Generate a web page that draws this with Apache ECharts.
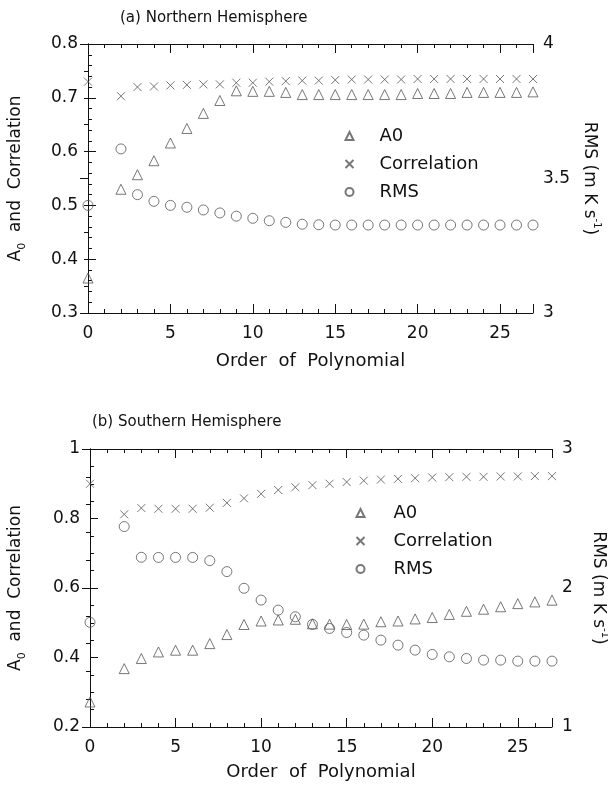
<!DOCTYPE html>
<html>
<head>
<meta charset="utf-8">
<script src="https://cdn.jsdelivr.net/npm/echarts@6/dist/echarts.min.js"></script>
<style>
html, body { margin: 0; padding: 0; background: #fff; }
#chart { width: 608px; height: 790px; }
</style>
</head>
<body>
<div id="chart"></div>
<script>
// order of polynomial (order 1 is not plotted in either panel)
const orders = [0, 2, 3, 4, 5, 6, 7, 8, 9, 10, 11, 12, 13, 14, 15, 16, 17, 18, 19, 20, 21, 22, 23, 24, 25, 26, 27]

// (a) Northern Hemisphere
const nhA0 = [0.365, 0.53, 0.557, 0.583, 0.616, 0.643, 0.671, 0.695, 0.713, 0.712, 0.712, 0.71, 0.706, 0.706,
  0.706, 0.706, 0.706, 0.706, 0.706, 0.708, 0.708, 0.708, 0.71, 0.71, 0.71, 0.71, 0.711]
const nhCorr = [0.73, 0.703, 0.72, 0.721, 0.723, 0.724, 0.725, 0.725, 0.728, 0.728, 0.73, 0.731, 0.732, 0.732,
  0.733, 0.734, 0.734, 0.734, 0.734, 0.735, 0.735, 0.735, 0.735, 0.735, 0.735, 0.735, 0.735]
const nhRms = [3.40, 3.61, 3.44, 3.415, 3.40, 3.393, 3.383, 3.372, 3.36, 3.352, 3.343, 3.337, 3.33, 3.328,
  3.327, 3.327, 3.327, 3.327, 3.327, 3.327, 3.327, 3.327, 3.327, 3.327, 3.327, 3.327, 3.327]

// (b) Southern Hemisphere
const shA0 = [0.272, 0.368, 0.397, 0.416, 0.421, 0.421, 0.44, 0.466, 0.495, 0.505, 0.508, 0.51, 0.497, 0.496,
  0.495, 0.496, 0.503, 0.505, 0.511, 0.515, 0.524, 0.533, 0.539, 0.546, 0.555, 0.56, 0.565]
const shCorr = [0.9, 0.812, 0.83, 0.828, 0.828, 0.828, 0.831, 0.845, 0.858, 0.871, 0.882, 0.89, 0.896, 0.9,
  0.905, 0.909, 0.912, 0.914, 0.916, 0.918, 0.919, 0.92, 0.92, 0.921, 0.921, 0.922, 0.922]
const shRms = [1.753, 2.442, 2.221, 2.22, 2.22, 2.22, 2.197, 2.118, 1.998, 1.913, 1.841, 1.793, 1.738, 1.709,
  1.68, 1.661, 1.625, 1.589, 1.553, 1.522, 1.505, 1.493, 1.481, 1.481, 1.474, 1.474, 1.474]

const legendNames = ['A0', 'Correlation', 'RMS']

const FONT = 'DejaVu Sans'
const INK = '#111'
const MARK = '#555'

const pairs = (ys) => orders.map((x, i) => [x, ys[i]])

// four x axes per panel: short ticks every order, long ticks every 5, on bottom and top edges
function xAxes(grid, labelMargin, nameGap) {
  const base = {
    type: 'value', gridIndex: grid, min: 0, max: 27,
    splitLine: { show: false },
    axisLine: { onZero: false, lineStyle: { color: INK, width: 1 } }
  }
  return [
    {
      ...base, position: 'bottom', interval: 1,
      axisTick: { inside: true, length: 4, lineStyle: { color: INK } },
      axisLabel: {
        margin: labelMargin, fontSize: 17, fontFamily: FONT, color: INK,
        formatter: (v) => (v % 5 === 0 ? String(v) : '')
      },
      name: 'Order  of  Polynomial', nameLocation: 'middle', nameGap: nameGap,
      nameTextStyle: { fontSize: 18, fontFamily: FONT, color: INK }
    },
    {
      ...base, position: 'bottom', interval: 5,
      axisLine: { show: false, onZero: false },
      axisTick: { inside: true, length: 9, lineStyle: { color: INK } },
      axisLabel: { show: false }
    },
    {
      ...base, position: 'top', interval: 1,
      axisTick: { inside: true, length: 4, lineStyle: { color: INK } },
      axisLabel: { show: false }
    },
    {
      ...base, position: 'top', interval: 5,
      axisLine: { show: false, onZero: false },
      axisTick: { inside: true, length: 9, lineStyle: { color: INK } },
      axisLabel: { show: false }
    }
  ]
}

const leftName = '{t|A}{s|0}{t|  and  Correlation}'
const rightName = '{t|RMS (m K s}{p|-1}{t|)}'
const nameRich = {
  t: { fontSize: 17, fontFamily: FONT, color: INK, lineHeight: 24 },
  s: { fontSize: 11, fontFamily: FONT, color: INK, lineHeight: 12, verticalAlign: 'bottom' },
  p: { fontSize: 10, fontFamily: FONT, color: INK, lineHeight: 12, verticalAlign: 'top' }
}

function yAxis(grid, side, min, max, interval, minorSplit, nameGap) {
  return {
    type: 'value', gridIndex: grid, position: side,
    min: min, max: max, interval: interval,
    splitLine: { show: false },
    axisLine: { show: true, lineStyle: { color: INK, width: 1 } },
    axisTick: { inside: true, length: 8, lineStyle: { color: INK } },
    minorTick: { show: true, splitNumber: minorSplit, length: 4, lineStyle: { color: INK } },
    axisLabel: { margin: 10, fontSize: 17, fontFamily: FONT, color: INK },
    name: side === 'left' ? leftName : rightName,
    nameLocation: 'middle',
    nameRotate: side === 'left' ? 90 : -90,
    nameGap: nameGap,
    nameTextStyle: { rich: nameRich }
  }
}

// scatter with hollow markers, like the scanned figure
const crossPath = 'path://M0,0L10,10M0,10L10,0'
function markSeries(name, symbol, size, xIdx, yIdx, ys) {
  return {
    name: name, type: 'scatter',
    xAxisIndex: xIdx, yAxisIndex: yIdx,
    symbol: symbol, symbolSize: size,
    clip: false,
    itemStyle: { color: 'none', borderColor: MARK, borderWidth: 1 },
    emphasis: { disabled: true },
    data: pairs(ys)
  }
}

function legendAt(left, top, padLeft) {
  return {
    orient: 'vertical', left: left, top: top, padding: 0,
    itemWidth: 8, itemHeight: 8, itemGap: 8,
    selectedMode: false,
    textStyle: { fontSize: 18, fontFamily: FONT, color: INK, lineHeight: 20, padding: [0, 0, 0, padLeft] },
    data: legendNames
  }
}

const chart = echarts.init(document.getElementById('chart'), null, { renderer: 'canvas' })

const option = {
  animation: false,
  backgroundColor: '#fff',
  title: [
    { text: '(a) Northern Hemisphere', left: 120, top: 11, padding: 0,
      textStyle: { fontSize: 15, fontWeight: 'normal', fontFamily: FONT, color: INK } },
    { text: '(b) Southern Hemisphere', left: 92, top: 415, padding: 0,
      textStyle: { fontSize: 15, fontWeight: 'normal', fontFamily: FONT, color: INK } }
  ],
  legend: [legendAt(343, 126, 21), legendAt(354, 503, 24)],
  grid: [
    { left: 88, top: 44, width: 445, height: 269, outerBoundsMode: 'none', show: false },
    { left: 90, top: 449, width: 462, height: 278, outerBoundsMode: 'none', show: false }
  ],
  xAxis: [...xAxes(0, 12, 39), ...xAxes(1, 12, 36)],
  yAxis: [
    yAxis(0, 'left', 0.3, 0.8, 0.1, 5, 60),
    yAxis(0, 'right', 3, 4, 0.5, 5, 44),
    yAxis(1, 'left', 0.2, 1, 0.2, 4, 62),
    yAxis(1, 'right', 1, 3, 1, 5, 34)
  ],
  series: [
    markSeries('A0', 'triangle', 10, 0, 0, nhA0),
    markSeries('Correlation', crossPath, 8, 0, 0, nhCorr),
    markSeries('RMS', 'circle', 10, 0, 1, nhRms),
    markSeries('A0', 'triangle', 10, 4, 2, shA0),
    markSeries('Correlation', crossPath, 8, 4, 2, shCorr),
    markSeries('RMS', 'circle', 10, 4, 3, shRms)
  ]
}

chart.setOption(option)
</script>
</body>
</html>
